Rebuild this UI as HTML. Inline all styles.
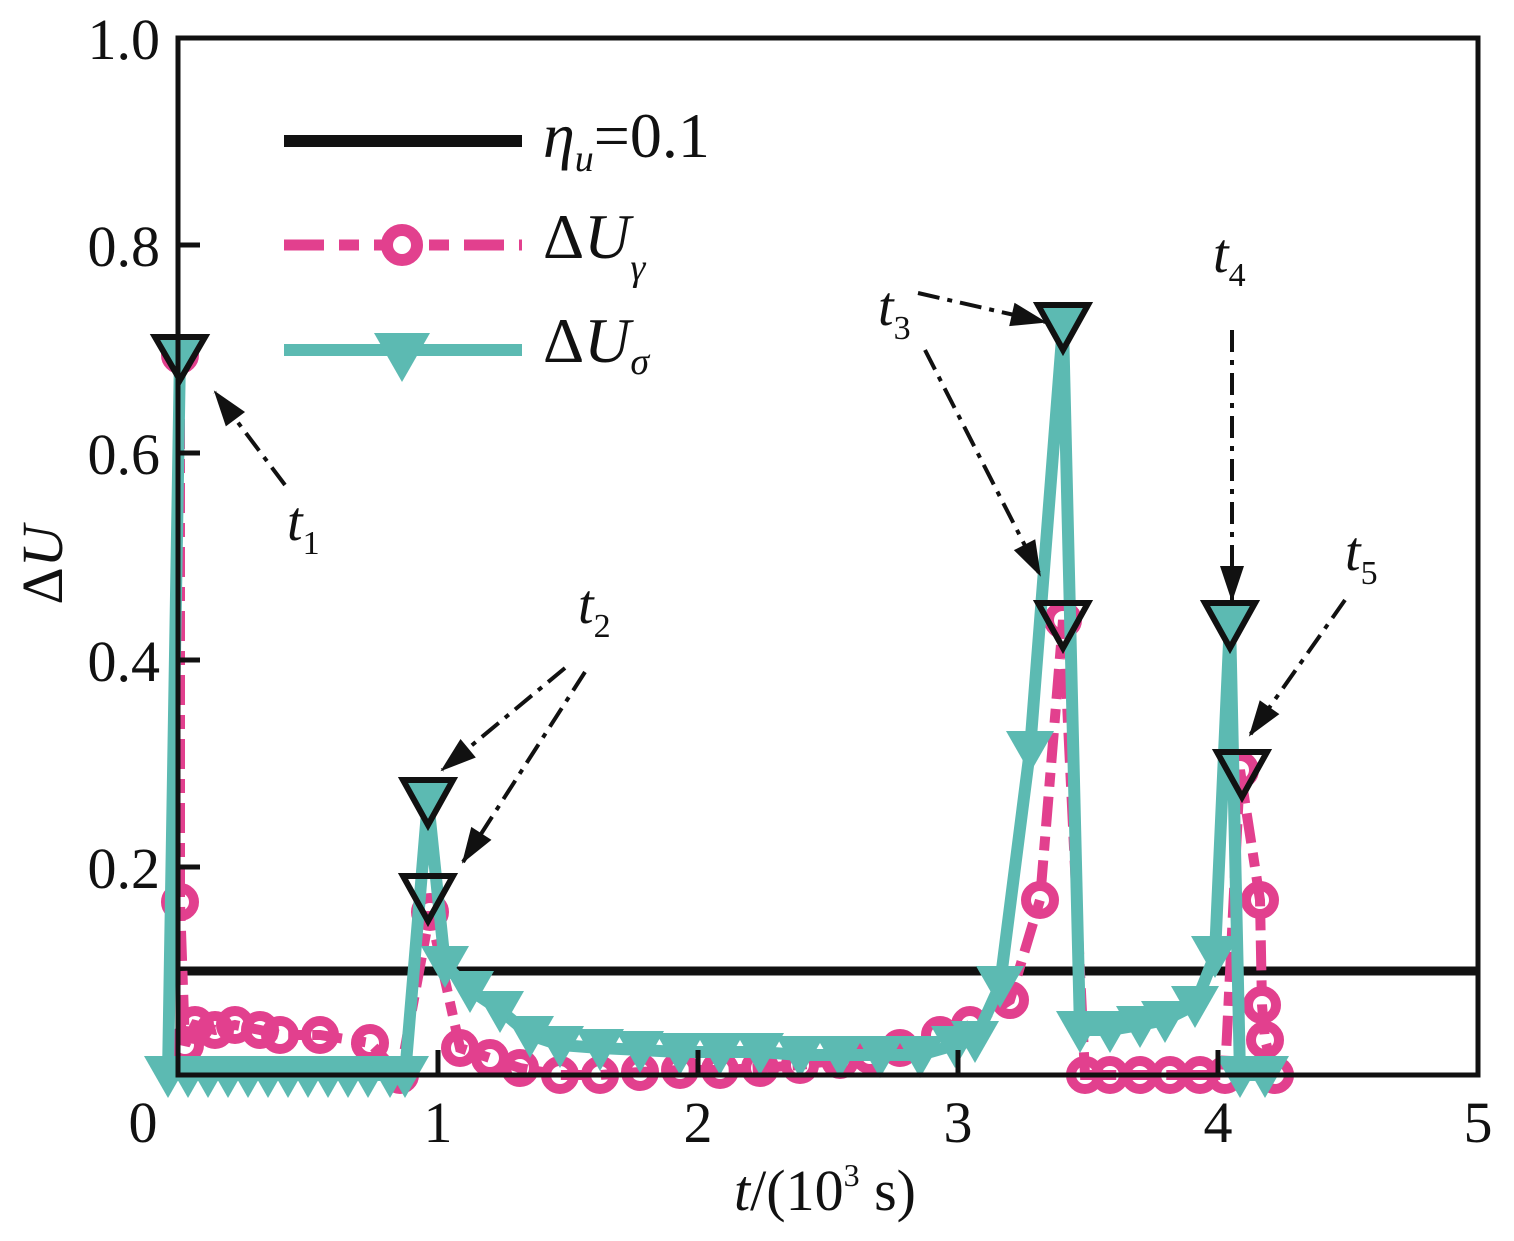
<!DOCTYPE html>
<html><head><meta charset="utf-8"><style>
html,body{margin:0;padding:0;background:#fff;}
svg{display:block;font-family:"Liberation Serif",serif;}
</style></head><body>
<svg width="1514" height="1241" viewBox="0 0 1514 1241" xmlns="http://www.w3.org/2000/svg">
<defs>
<marker id="mc" markerUnits="userSpaceOnUse" markerWidth="40" markerHeight="40" refX="20" refY="20" overflow="visible">
<circle cx="20" cy="20" r="14" fill="none" stroke="#e2408e" stroke-width="10"/>
</marker>
<marker id="mt" markerUnits="userSpaceOnUse" markerWidth="50" markerHeight="50" refX="25" refY="25" overflow="visible">
<polygon points="1,6 49,6 25,48" fill="#5cbab2"/>
</marker>
<marker id="ar" markerUnits="userSpaceOnUse" markerWidth="40" markerHeight="30" refX="34" refY="12" orient="auto" overflow="visible">
<polygon points="0,0 36,12 0,24" fill="#111"/>
</marker>
</defs>
<line x1="178" y1="971" x2="1478" y2="971" stroke="#111" stroke-width="9"/>
<polyline fill="none" stroke="#e2408e" stroke-width="10" stroke-dasharray="30,10,14,10" marker-start="url(#mc)" marker-mid="url(#mc)" marker-end="url(#mc)"
points="180,355 180,902 185,1045 195,1025 215,1030 235,1025 260,1030 280,1035 320,1035 370,1043 400,1075 430,912 460,1048 490,1058 520,1068 560,1075 600,1075 640,1072 680,1070 720,1070 760,1068 800,1065 840,1060 870,1055 900,1048 940,1035 970,1025 1010,1000 1040,900 1063,620 1085,1075 1110,1075 1140,1075 1170,1075 1200,1075 1225,1075 1240,770 1260,900 1262,1005 1265,1040 1275,1075"/>
<polyline fill="none" stroke="#5cbab2" stroke-width="12" marker-start="url(#mt)" marker-mid="url(#mt)" marker-end="url(#mt)"
points="180,355 168,1075 188,1075 208,1075 228,1075 248,1075 268,1075 288,1075 308,1075 328,1075 348,1075 368,1075 390,1075 405,1075 428,800 445,965 470,990 500,1010 530,1035 560,1045 600,1048 640,1050 680,1052 720,1052 760,1052 800,1055 840,1055 880,1055 920,1055 955,1045 975,1040 1000,985 1030,750 1063,325 1080,1030 1110,1030 1140,1025 1165,1020 1195,1005 1215,955 1230,620 1240,1075 1265,1075"/>
<g fill="none" stroke="#111" stroke-width="6" stroke-linejoin="miter">
<polygon points="155,337 205,337 180,380"/>
<polygon points="403,780 453,780 428,825"/>
<polygon points="403,876 453,876 428,921"/>
<polygon points="1038,305 1088,305 1063,350"/>
<polygon points="1038,603 1088,603 1063,648"/>
<polygon points="1205,603 1255,603 1230,648"/>
<polygon points="1217,752 1267,752 1242,797"/>
</g>
<rect x="178" y="38" width="1300" height="1037" fill="none" stroke="#111" stroke-width="5"/>
<g stroke="#111" stroke-width="5">
<line x1="178" y1="245" x2="200" y2="245"/><line x1="178" y1="453" x2="200" y2="453"/>
<line x1="178" y1="660" x2="200" y2="660"/><line x1="178" y1="867" x2="200" y2="867"/>
<line x1="438" y1="1075" x2="438" y2="1050"/><line x1="698" y1="1075" x2="698" y2="1050"/>
<line x1="958" y1="1075" x2="958" y2="1050"/><line x1="1218" y1="1075" x2="1218" y2="1050"/>
</g>
<g font-size="58" fill="#111" text-anchor="end">
<text x="160" y="59">1.0</text><text x="160" y="266">0.8</text><text x="160" y="474">0.6</text>
<text x="160" y="681">0.4</text><text x="160" y="888">0.2</text>
</g>
<g font-size="58" fill="#111" text-anchor="middle">
<text x="143" y="1142">0</text><text x="438" y="1142">1</text><text x="698" y="1142">2</text>
<text x="958" y="1142">3</text><text x="1218" y="1142">4</text><text x="1478" y="1142">5</text>
</g>
<text x="825" y="1210" font-size="58" text-anchor="middle" fill="#111"><tspan font-style="italic">t</tspan>/(10<tspan font-size="32" dy="-24">3</tspan><tspan dy="24"> s)</tspan></text>
<text transform="translate(62,565) rotate(-90)" font-size="58" text-anchor="middle" fill="#111">Δ<tspan font-style="italic">U</tspan></text>
<line x1="284" y1="141" x2="522" y2="141" stroke="#111" stroke-width="12"/>
<line x1="284" y1="245" x2="522" y2="245" stroke="#e2408e" stroke-width="11" stroke-dasharray="40,15,20,15"/>
<circle cx="402" cy="245" r="15" fill="#fff" stroke="#e2408e" stroke-width="12"/>
<line x1="284" y1="350" x2="522" y2="350" stroke="#5cbab2" stroke-width="12"/>
<polygon points="374,333 430,333 402,382" fill="#5cbab2"/>
<g font-size="64" fill="#111">
<text x="543" y="157"><tspan font-style="italic">η</tspan><tspan font-size="38" font-style="italic" dy="14">u</tspan><tspan dy="-14">=0.1</tspan></text>
<text x="543" y="258">Δ<tspan font-style="italic">U</tspan><tspan font-size="38" font-style="italic" dy="22">γ</tspan></text>
<text x="543" y="362">Δ<tspan font-style="italic">U</tspan><tspan font-size="38" font-style="italic" dy="12">σ</tspan></text>
</g>
<g stroke="#111" stroke-width="4" stroke-dasharray="22,8,5,8" fill="none" marker-end="url(#ar)">
<line x1="285" y1="485" x2="215" y2="392"/>
<line x1="565" y1="668" x2="442" y2="770"/>
<line x1="585" y1="672" x2="463" y2="862"/>
<line x1="918" y1="293" x2="1045" y2="322"/>
<line x1="925" y1="350" x2="1040" y2="575"/>
<line x1="1232" y1="330" x2="1232" y2="600"/>
<line x1="1345" y1="600" x2="1250" y2="735"/>
</g>
<g font-size="56" fill="#111" font-style="italic">
<text x="287" y="540">t<tspan font-size="34" font-style="normal" dy="14">1</tspan></text>
<text x="578" y="623">t<tspan font-size="34" font-style="normal" dy="14">2</tspan></text>
<text x="878" y="325">t<tspan font-size="34" font-style="normal" dy="14">3</tspan></text>
<text x="1213" y="272">t<tspan font-size="34" font-style="normal" dy="14">4</tspan></text>
<text x="1345" y="570">t<tspan font-size="34" font-style="normal" dy="14">5</tspan></text>
</g>
</svg>
</body></html>
